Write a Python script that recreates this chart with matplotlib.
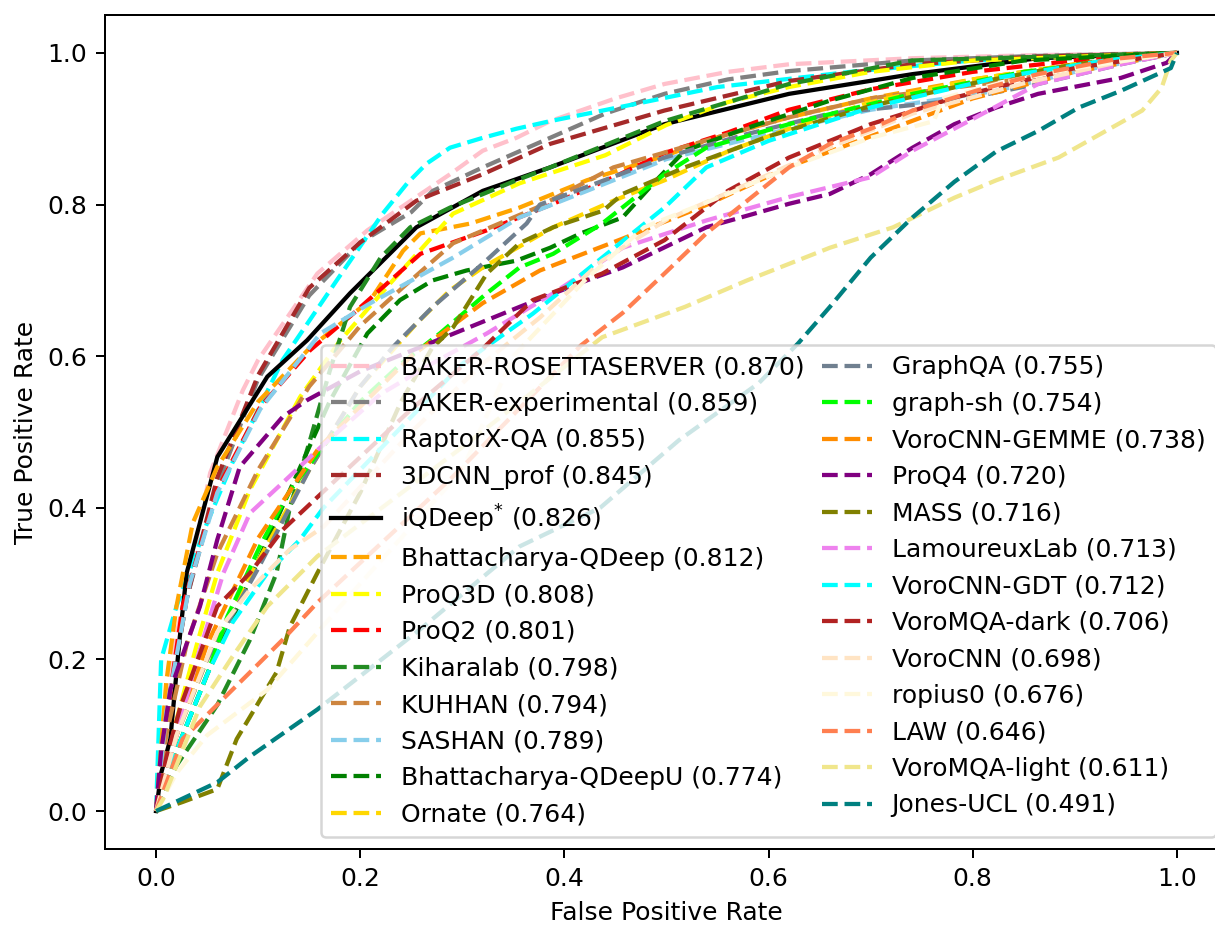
import numpy as np
import matplotlib
matplotlib.use("Agg")
import matplotlib.pyplot as plt

# ROC points (fpr, tpr)
rosetta_fpr = [0, 0.005, 0.015, 0.026, 0.053, 0.085, 0.10, 0.158, 0.207, 0.255, 0.288, 0.32, 0.353, 0.386, 0.45, 0.498, 0.56, 0.62, 0.741, 0.86, 1.0]
rosetta_tpr = [0, 0.10, 0.20, 0.27, 0.446, 0.555, 0.595, 0.709, 0.766, 0.81, 0.84, 0.871, 0.888, 0.91, 0.94, 0.959, 0.975, 0.985, 0.993, 0.997, 1.0]

bakerexp_fpr = [0, 0.01, 0.03, 0.06, 0.10, 0.15, 0.20, 0.25, 0.271, 0.32, 0.386, 0.44, 0.498, 0.56, 0.62, 0.741, 0.86, 1.0]
bakerexp_tpr = [0, 0.12, 0.28, 0.43, 0.57, 0.68, 0.75, 0.79, 0.818, 0.849, 0.888, 0.92, 0.946, 0.965, 0.976, 0.99, 0.996, 1.0]

raptorx_fpr = [0, 0.005, 0.02, 0.05, 0.075, 0.124, 0.177, 0.222, 0.246, 0.265, 0.288, 0.32, 0.353, 0.386, 0.478, 0.55, 0.68, 0.80, 1.0]
raptorx_tpr = [0, 0.20, 0.27, 0.38, 0.46, 0.595, 0.70, 0.788, 0.828, 0.854, 0.875, 0.888, 0.90, 0.91, 0.935, 0.955, 0.975, 0.99, 1.0]

cnn3d_fpr = [0, 0.01, 0.03, 0.06, 0.10, 0.15, 0.20, 0.255, 0.32, 0.386, 0.498, 0.62, 0.741, 0.86, 1.0]
cnn3d_tpr = [0, 0.12, 0.28, 0.44, 0.575, 0.69, 0.75, 0.805, 0.84, 0.88, 0.924, 0.963, 0.985, 0.995, 1.0]

iqdeep_fpr = [0, 0.005, 0.014, 0.023, 0.03, 0.06, 0.109, 0.148, 0.19, 0.255, 0.32, 0.386, 0.498, 0.62, 0.741, 0.864, 1.0]
iqdeep_tpr = [0, 0.05, 0.095, 0.226, 0.314, 0.467, 0.573, 0.621, 0.683, 0.77, 0.818, 0.849, 0.906, 0.946, 0.972, 0.993, 1.0]

qdeep_fpr = [0, 0.01, 0.02, 0.036, 0.06, 0.10, 0.15, 0.21, 0.242, 0.259, 0.308, 0.356, 0.422, 0.50, 0.54, 0.62, 0.70, 0.80, 0.90, 1.0]
qdeep_tpr = [0, 0.17, 0.27, 0.38, 0.454, 0.54, 0.61, 0.674, 0.739, 0.762, 0.775, 0.796, 0.832, 0.865, 0.885, 0.915, 0.94, 0.965, 0.985, 1.0]

proq3d_fpr = [0, 0.02, 0.04, 0.06, 0.092, 0.141, 0.18, 0.226, 0.291, 0.356, 0.44, 0.50, 0.56, 0.62, 0.70, 0.80, 1.0]
proq3d_tpr = [0, 0.12, 0.22, 0.314, 0.424, 0.546, 0.62, 0.691, 0.788, 0.828, 0.865, 0.905, 0.935, 0.955, 0.975, 0.99, 1.0]

proq2_fpr = [0, 0.01, 0.026, 0.06, 0.102, 0.151, 0.193, 0.259, 0.324, 0.389, 0.448, 0.498, 0.56, 0.62, 0.70, 0.80, 0.90, 1.0]
proq2_tpr = [0, 0.12, 0.27, 0.424, 0.533, 0.608, 0.656, 0.735, 0.766, 0.801, 0.836, 0.868, 0.895, 0.925, 0.952, 0.975, 0.99, 1.0]

kihara_fpr = [0, 0.02, 0.06, 0.092, 0.118, 0.131, 0.151, 0.17, 0.19, 0.22, 0.249, 0.288, 0.353, 0.386, 0.498, 0.62, 0.741, 1.0]
kihara_tpr = [0, 0.06, 0.14, 0.226, 0.314, 0.40, 0.49, 0.58, 0.665, 0.73, 0.77, 0.796, 0.832, 0.849, 0.91, 0.959, 0.99, 1.0]

kuhhan_fpr = [0, 0.01, 0.03, 0.06, 0.10, 0.15, 0.20, 0.242, 0.291, 0.373, 0.448, 0.54, 0.62, 0.70, 0.843, 0.95, 1.0]
kuhhan_tpr = [0, 0.10, 0.22, 0.34, 0.45, 0.56, 0.64, 0.691, 0.749, 0.796, 0.849, 0.885, 0.915, 0.94, 0.965, 0.99, 1.0]

sashan_fpr = [0, 0.01, 0.033, 0.06, 0.102, 0.161, 0.21, 0.291, 0.356, 0.422, 0.50, 0.62, 0.70, 0.823, 0.90, 1.0]
sashan_tpr = [0, 0.13, 0.30, 0.42, 0.53, 0.63, 0.67, 0.73, 0.783, 0.818, 0.86, 0.90, 0.925, 0.95, 0.975, 1.0]

qdeepu_fpr = [0, 0.02, 0.05, 0.10, 0.14, 0.17, 0.207, 0.239, 0.271, 0.304, 0.353, 0.386, 0.416, 0.457, 0.49, 0.518, 0.579, 0.66, 0.741, 0.85, 1.0]
qdeepu_tpr = [0, 0.08, 0.18, 0.33, 0.45, 0.54, 0.63, 0.674, 0.70, 0.713, 0.726, 0.743, 0.762, 0.783, 0.832, 0.871, 0.901, 0.937, 0.967, 0.99, 1.0]

ornate_fpr = [0, 0.02, 0.05, 0.10, 0.15, 0.20, 0.255, 0.288, 0.32, 0.389, 0.448, 0.498, 0.56, 0.62, 0.70, 0.80, 0.90, 1.0]
ornate_tpr = [0, 0.10, 0.20, 0.33, 0.45, 0.56, 0.643, 0.687, 0.717, 0.77, 0.805, 0.832, 0.87, 0.90, 0.935, 0.965, 0.985, 1.0]

graphqa_fpr = [0, 0.02, 0.05, 0.10, 0.15, 0.20, 0.232, 0.271, 0.32, 0.363, 0.376, 0.498, 0.579, 0.66, 0.782, 0.864, 0.945, 1.0]
graphqa_tpr = [0, 0.10, 0.20, 0.32, 0.45, 0.56, 0.612, 0.665, 0.722, 0.775, 0.80, 0.862, 0.893, 0.92, 0.937, 0.959, 0.985, 1.0]

graphsh_fpr = [0, 0.02, 0.05, 0.07, 0.102, 0.13, 0.163, 0.20, 0.24, 0.278, 0.324, 0.356, 0.389, 0.437, 0.498, 0.539, 0.62, 0.741, 0.85, 1.0]
graphsh_tpr = [0, 0.08, 0.18, 0.257, 0.35, 0.42, 0.48, 0.54, 0.59, 0.63, 0.683, 0.717, 0.735, 0.775, 0.84, 0.875, 0.906, 0.946, 0.975, 1.0]

gemme_fpr = [0, 0.02, 0.05, 0.10, 0.16, 0.25, 0.32, 0.376, 0.457, 0.54, 0.62, 0.70, 0.80, 0.90, 1.0]
gemme_tpr = [0, 0.10, 0.22, 0.36, 0.48, 0.60, 0.67, 0.713, 0.755, 0.80, 0.85, 0.89, 0.94, 0.975, 1.0]

proq4_fpr = [0, 0.005, 0.014, 0.043, 0.06, 0.082, 0.124, 0.148, 0.20, 0.259, 0.356, 0.422, 0.457, 0.539, 0.62, 0.66, 0.70, 0.741, 0.782, 0.823, 0.864, 0.945, 0.99, 1.0]
proq4_tpr = [0, 0.08, 0.16, 0.27, 0.358, 0.454, 0.52, 0.542, 0.58, 0.612, 0.665, 0.70, 0.717, 0.77, 0.801, 0.814, 0.84, 0.875, 0.906, 0.928, 0.946, 0.967, 0.987, 1.0]

mass_fpr = [0, 0.026, 0.06, 0.079, 0.118, 0.131, 0.158, 0.20, 0.24, 0.27, 0.291, 0.324, 0.356, 0.389, 0.438, 0.457, 0.518, 0.60, 0.70, 0.80, 0.90, 1.0]
mass_tpr = [0, 0.012, 0.029, 0.095, 0.183, 0.243, 0.314, 0.42, 0.54, 0.61, 0.638, 0.709, 0.749, 0.77, 0.792, 0.814, 0.849, 0.89, 0.93, 0.96, 0.985, 1.0]

lamoureux_fpr = [0, 0.02, 0.04, 0.066, 0.092, 0.124, 0.158, 0.22, 0.27, 0.324, 0.389, 0.457, 0.539, 0.62, 0.70, 0.741, 0.803, 0.864, 0.945, 1.0]
lamoureux_tpr = [0, 0.10, 0.20, 0.314, 0.393, 0.433, 0.476, 0.55, 0.59, 0.63, 0.683, 0.743, 0.779, 0.81, 0.836, 0.871, 0.915, 0.959, 0.985, 1.0]

gdt_fpr = [0, 0.02, 0.05, 0.075, 0.109, 0.141, 0.164, 0.25, 0.30, 0.369, 0.437, 0.498, 0.539, 0.60, 0.70, 0.823, 0.93, 1.0]
gdt_tpr = [0, 0.08, 0.18, 0.249, 0.314, 0.358, 0.40, 0.52, 0.59, 0.656, 0.73, 0.796, 0.849, 0.884, 0.928, 0.967, 0.99, 1.0]

dark_fpr = [0, 0.01, 0.024, 0.06, 0.092, 0.124, 0.158, 0.25, 0.32, 0.369, 0.437, 0.498, 0.56, 0.62, 0.70, 0.782, 0.90, 1.0]
dark_tpr = [0, 0.07, 0.138, 0.27, 0.314, 0.371, 0.414, 0.53, 0.61, 0.674, 0.709, 0.753, 0.818, 0.862, 0.906, 0.941, 0.98, 1.0]

vorocnn_fpr = [0, 0.02, 0.06, 0.092, 0.131, 0.164, 0.25, 0.32, 0.376, 0.437, 0.50, 0.571, 0.65, 0.741, 0.85, 0.95, 1.0]
vorocnn_tpr = [0, 0.10, 0.236, 0.292, 0.345, 0.375, 0.50, 0.59, 0.651, 0.726, 0.78, 0.822, 0.87, 0.92, 0.96, 0.99, 1.0]

ropius_fpr = [0, 0.02, 0.05, 0.109, 0.20, 0.30, 0.35, 0.42, 0.478, 0.56, 0.62, 0.70, 0.762, 0.77, 0.823, 0.90, 1.0]
ropius_tpr = [0, 0.05, 0.10, 0.16, 0.30, 0.45, 0.60, 0.70, 0.77, 0.814, 0.849, 0.888, 0.91, 0.94, 0.959, 0.98, 1.0]

law_fpr = [0, 0.026, 0.092, 0.124, 0.158, 0.29, 0.416, 0.457, 0.498, 0.539, 0.579, 0.62, 0.66, 0.70, 0.741, 0.803, 0.864, 0.945, 1.0]
law_tpr = [0, 0.095, 0.183, 0.226, 0.275, 0.44, 0.614, 0.657, 0.709, 0.762, 0.805, 0.849, 0.88, 0.90, 0.924, 0.95, 0.972, 0.993, 1.0]

light_fpr = [0, 0.007, 0.043, 0.075, 0.109, 0.158, 0.30, 0.437, 0.518, 0.579, 0.66, 0.722, 0.782, 0.823, 0.884, 0.925, 0.966, 0.985, 0.994, 1.0]
light_tpr = [0, 0.016, 0.138, 0.204, 0.27, 0.336, 0.48, 0.625, 0.665, 0.70, 0.743, 0.77, 0.809, 0.832, 0.862, 0.893, 0.924, 0.954, 0.99, 1.0]

jones_fpr = [0, 0.06, 0.092, 0.158, 0.259, 0.356, 0.435, 0.512, 0.59, 0.629, 0.66, 0.70, 0.741, 0.782, 0.823, 0.864, 0.904, 0.945, 0.994, 1.0]
jones_tpr = [0, 0.038, 0.072, 0.134, 0.24, 0.349, 0.40, 0.489, 0.564, 0.617, 0.665, 0.73, 0.783, 0.83, 0.87, 0.897, 0.928, 0.95, 0.98, 1.0]

names = ["BAKER-ROSETTASERVER", "BAKER-experimental", "RaptorX-QA", "3DCNN_prof",
         "iQDeep$^{*}$", "Bhattacharya-QDeep", "ProQ3D", "ProQ2", "Kiharalab", "KUHHAN",
         "SASHAN", "Bhattacharya-QDeepU", "Ornate", "GraphQA", "graph-sh", "VoroCNN-GEMME",
         "ProQ4", "MASS", "LamoureuxLab", "VoroCNN-GDT", "VoroMQA-dark", "VoroCNN",
         "ropius0", "LAW", "VoroMQA-light", "Jones-UCL"]
aucs = [0.870, 0.859, 0.855, 0.845, 0.826, 0.812, 0.808, 0.801, 0.798, 0.794,
        0.789, 0.774, 0.764, 0.755, 0.754, 0.738, 0.720, 0.716, 0.713, 0.712,
        0.706, 0.698, 0.676, 0.646, 0.611, 0.491]
curves = [(rosetta_fpr, rosetta_tpr), (bakerexp_fpr, bakerexp_tpr), (raptorx_fpr, raptorx_tpr),
          (cnn3d_fpr, cnn3d_tpr), (iqdeep_fpr, iqdeep_tpr), (qdeep_fpr, qdeep_tpr),
          (proq3d_fpr, proq3d_tpr), (proq2_fpr, proq2_tpr), (kihara_fpr, kihara_tpr),
          (kuhhan_fpr, kuhhan_tpr), (sashan_fpr, sashan_tpr), (qdeepu_fpr, qdeepu_tpr),
          (ornate_fpr, ornate_tpr), (graphqa_fpr, graphqa_tpr), (graphsh_fpr, graphsh_tpr),
          (gemme_fpr, gemme_tpr), (proq4_fpr, proq4_tpr), (mass_fpr, mass_tpr),
          (lamoureux_fpr, lamoureux_tpr), (gdt_fpr, gdt_tpr), (dark_fpr, dark_tpr),
          (vorocnn_fpr, vorocnn_tpr), (ropius_fpr, ropius_tpr), (law_fpr, law_tpr),
          (light_fpr, light_tpr), (jones_fpr, jones_tpr)]

colors = ["pink", "gray", "cyan", "brown", "black", "orange", "yellow", "red",
          "forestgreen", "peru", "skyblue", "green", "gold", "slategray", "lime",
          "darkorange", "purple", "olive", "violet", "aqua", "firebrick", "bisque",
          "cornsilk", "coral", "khaki", "teal"]

fig = plt.figure(figsize=(1215 / 180, 925 / 180), dpi=180)
ax = fig.add_axes([105 / 1215, 1 - 849 / 925, (1228 - 105) / 1215, (849 - 15) / 925])

for (fpr, tpr), name, auc, col in zip(curves, names, aucs, colors):
    ls = "-" if col == "black" else "--"
    ax.plot(fpr, tpr, ls, color=col, lw=1.7, label="%s (%.3f)" % (name, auc))

ax.set_xlabel("False Positive Rate")
ax.set_ylabel("True Positive Rate")
ax.legend(loc="lower right", ncol=2, columnspacing=0.7)

fig.savefig("out.png", dpi=180)
